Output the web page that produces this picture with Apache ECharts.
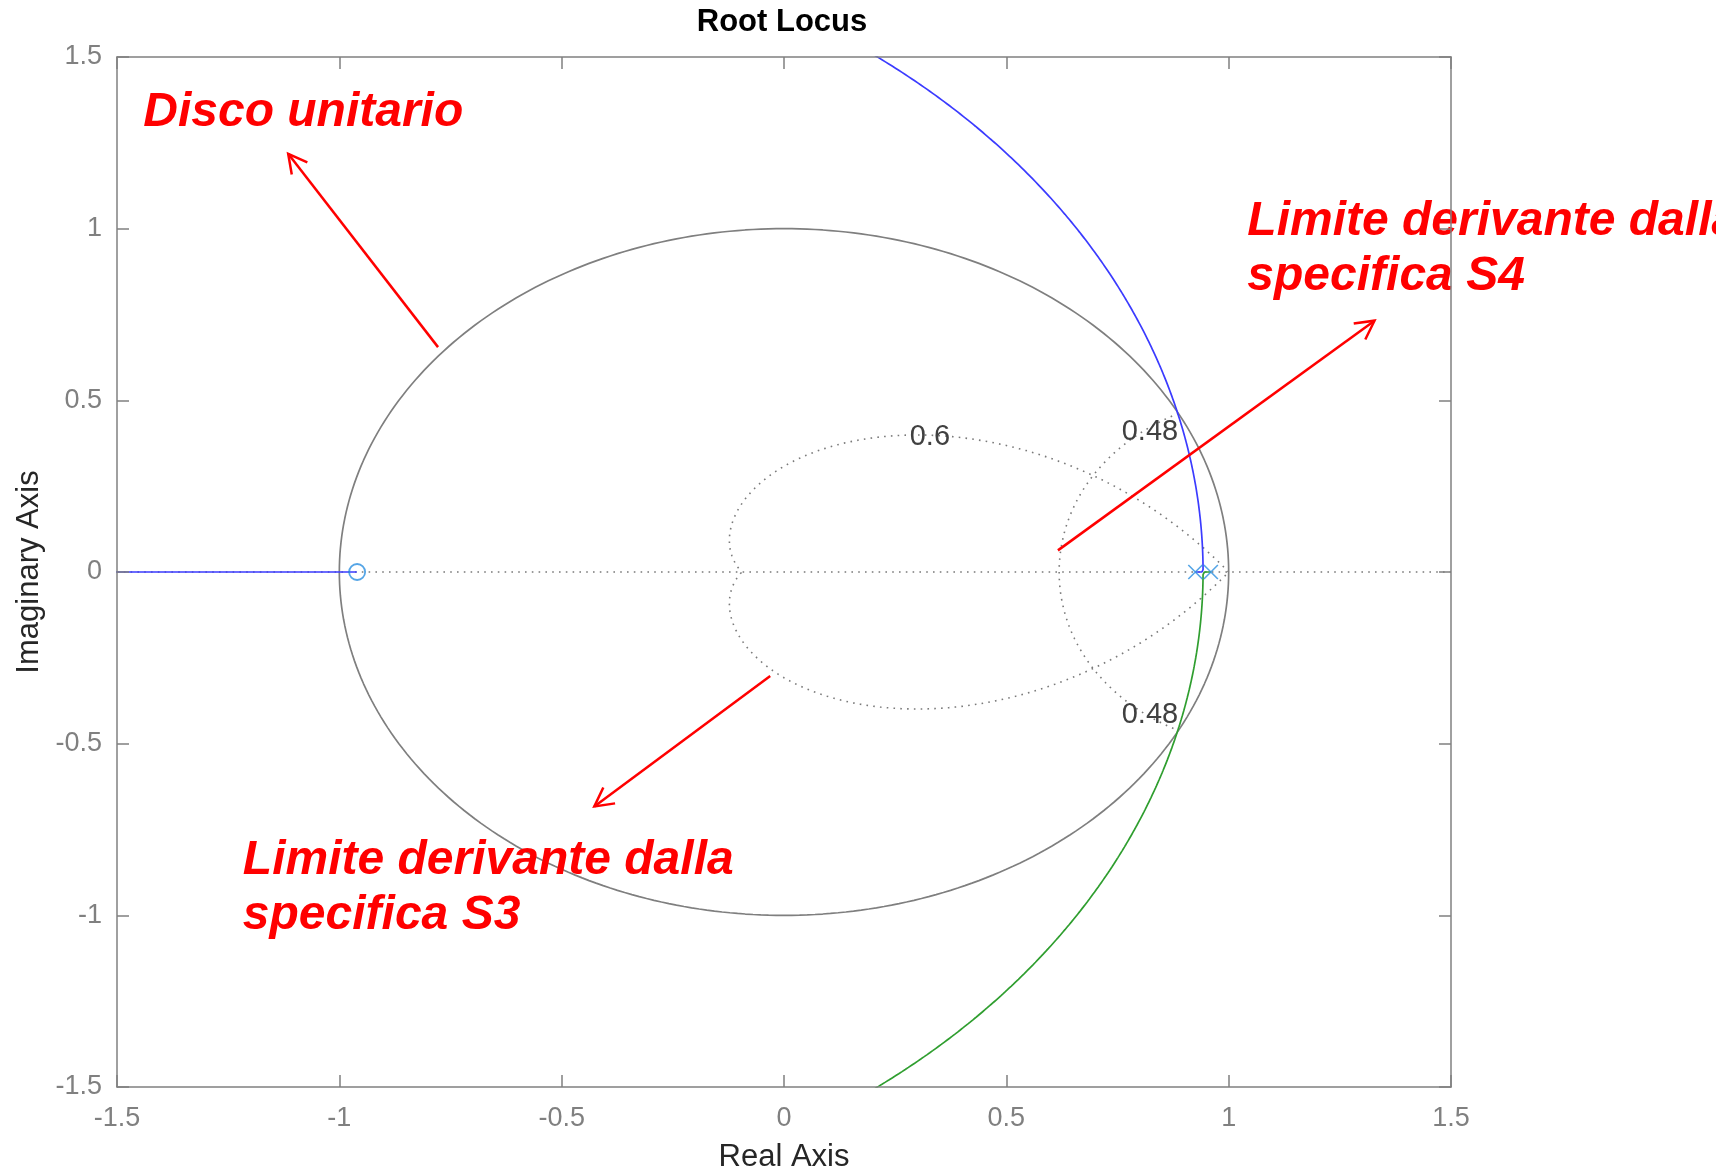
<!DOCTYPE html>
<html><head><meta charset="utf-8">
<script src="https://cdn.jsdelivr.net/npm/echarts@6/dist/echarts.min.js"></script>
<style>html,body{margin:0;padding:0;background:#fff}#c{width:1716px;height:1173px}</style>
</head><body><div id="c"></div>
<script>
// ---- data ----
const axisTicks = [-1.5, -1, -0.5, 0, 0.5, 1, 1.5];
const openLoopPoles = [0.925, 0.96];
const openLoopZeros = [-0.96];
const unitDiscRadius = [1];
const dampingRatios = [0.6];
const naturalFreqs = [0.48];
const gridLabelTexts = ['0.6', '0.48', '0.48'];
const annotationLines = ['Disco unitario', 'Limite derivante dalla', 'specifica S4', 'Limite derivante dalla', 'specifica S3'];

// ---- geometry derived from the parameters above ----
function circlePts(r) {
  const out = [];
  for (let i = 0; i <= 360; i++) { const t = i * Math.PI / 180; out.push([r * Math.cos(t), r * Math.sin(t)]); }
  return out;
}
function zetaCurve(zeta) {
  const a = zeta / Math.sqrt(1 - zeta * zeta), up = [];
  for (let i = 0; i <= 300; i++) { const t = Math.PI * i / 300, r = Math.exp(-a * t); up.push([r * Math.cos(t), r * Math.sin(t)]); }
  return up.concat(up.slice().reverse().map(p => [p[0], -p[1]]));
}
function wnCurve(wn) {
  const up = [];
  for (let i = 0; i <= 300; i++) {
    const t = (Math.PI / 2) * i / 300, z = Math.sin(t), r = Math.exp(-wn * z), ang = wn * Math.cos(t);
    up.push([r * Math.cos(ang), r * Math.sin(ang)]);
  }
  return up.concat(up.slice().reverse().map(p => [p[0], -p[1]]));
}
function rootLocus() {
  const p1 = openLoopPoles[0], p2 = openLoopPoles[1], z0 = openLoopZeros[0];
  const blue = [], green = [];
  const Ks = [0];
  for (let i = 0; i <= 6000; i++) Ks.push(Math.pow(10, -8 + i * 14 / 6000));
  let seenComplex = false;
  for (const K of Ks) {
    const b = K - p1 - p2, c = p1 * p2 - K * z0, d = b * b - 4 * c;
    if (d < 0) {
      seenComplex = true;
      const re = -b / 2, im = Math.sqrt(-d) / 2;
      blue.push([re, im]); green.push([re, -im]);
    } else {
      const s = Math.sqrt(d), r1 = (-b - s) / 2, r2 = (-b + s) / 2;
      if (!seenComplex) { blue.push([r1, 0]); green.push([r2, 0]); }
      else { blue.push([r2, 0]); green.push([r1, 0]); }
    }
  }
  return { blue, green };
}
const locus = rootLocus();

const FONT = '"Liberation Sans", Arial, Helvetica, sans-serif';
const AXC = '#808080';
const xmin = axisTicks[0], xmax = axisTicks[axisTicks.length - 1];

function axisCommon(pos, showLabel) {
  return {
    type: 'value', min: xmin, max: xmax, interval: 0.5, position: pos, z: 10,
    axisLine: { show: true, onZero: false, lineStyle: { color: AXC, width: 1.5 } },
    axisTick: { show: true, inside: true, length: 12, lineStyle: { color: AXC, width: 1.5 } },
    axisLabel: { show: showLabel, color: AXC, fontSize: 27, fontFamily: FONT },
    splitLine: { show: false }
  };
}

const chart = echarts.init(document.getElementById('c'), null, { renderer: 'canvas' });

const gridLabelPos = [[0.328, 0.393], [0.823, 0.408], [0.823, -0.417]];
const annotationPos = [[-1.441, 1.339], [1.042, 1.021], [1.042, 0.861], [-1.217, -0.840], [-1.217, -1.000]];
const arrows = [[-0.778, 0.655, -1.115, 1.218], [0.616, 0.063, 1.328, 0.732], [-0.031, -0.303, -0.4266, -0.683]];

const dotted = { color: '#7a7a7a', width: 1.6, type: [1.6, 5.2] };

chart.setOption({
  animation: false,
  backgroundColor: '#fff',
  grid: { left: 117, right: 265, top: 57, bottom: 86, containLabel: false, outerBoundsMode: 'none' },
  graphic: [{
    type: 'text', x: 782, y: 22, z: 100,
    style: { text: 'Root Locus', fill: '#000', font: 'bold 31px ' + FONT, align: 'center', verticalAlign: 'middle' }
  }],
  xAxis: [
    Object.assign(axisCommon('bottom', true), {
      name: 'Real Axis', nameLocation: 'middle', nameGap: 55,
      nameTextStyle: { color: '#262626', fontSize: 31, fontFamily: FONT },
      axisLabel: { show: true, color: AXC, fontSize: 27, fontFamily: FONT, margin: 18 }
    }),
    axisCommon('top', false)
  ],
  yAxis: [
    Object.assign(axisCommon('left', true), {
      name: 'Imaginary Axis', nameLocation: 'middle', nameGap: 72, nameRotate: 90,
      nameTextStyle: { color: '#262626', fontSize: 31, fontFamily: FONT },
      axisLabel: { show: true, color: AXC, fontSize: 27, fontFamily: FONT, margin: 15 }
    }),
    axisCommon('right', false)
  ],
  series: [
    { type: 'line', data: [[xmin, 0], [xmax, 0]], showSymbol: false, lineStyle: dotted, z: 1, silent: true },
    { type: 'line', data: zetaCurve(dampingRatios[0]), showSymbol: false, lineStyle: dotted, z: 1, silent: true },
    { type: 'line', data: wnCurve(naturalFreqs[0]), showSymbol: false, lineStyle: dotted, z: 1, silent: true },
    { type: 'line', data: circlePts(unitDiscRadius[0]), showSymbol: false, lineStyle: { color: '#7f7f7f', width: 1.7 }, z: 2, silent: true },
    { type: 'line', data: locus.blue, showSymbol: false, clip: true, lineStyle: { color: '#3b3bff', width: 1.7 }, z: 3, silent: true },
    { type: 'line', data: locus.green, showSymbol: false, clip: true, lineStyle: { color: '#2f9e2f', width: 1.7 }, z: 3, silent: true },
    { type: 'scatter', data: openLoopPoles.map(p => [p, 0]), symbol: 'path://M0,0L10,10M10,0L0,10', symbolSize: 14,
      itemStyle: { color: 'rgba(0,0,0,0)', borderColor: '#2a8fe0', borderWidth: 1.6 }, z: 4, silent: true },
    { type: 'scatter', data: openLoopZeros.map(p => [p, 0]), symbol: 'circle', symbolSize: 16,
      itemStyle: { color: 'rgba(0,0,0,0)', borderColor: '#2a8fe0', borderWidth: 1.8 }, z: 4, silent: true },
    { type: 'custom', coordinateSystem: 'cartesian2d', z: 5, silent: true, clip: false,
      data: gridLabelPos,
      renderItem(params, api) {
        const p = api.coord([api.value(0), api.value(1)]);
        return { type: 'text', x: p[0], y: p[1],
          style: { text: gridLabelTexts[params.dataIndex], fill: '#404040', font: '29px ' + FONT, align: 'center', verticalAlign: 'middle' } };
      } },
    { type: 'custom', coordinateSystem: 'cartesian2d', z: 6, silent: true, clip: false,
      data: arrows,
      renderItem(params, api) {
        const a = api.coord([api.value(0), api.value(1)]), b = api.coord([api.value(2), api.value(3)]);
        const ang = Math.atan2(a[1] - b[1], a[0] - b[0]), L = 21, w = 28 * Math.PI / 180;
        const w1 = [b[0] + L * Math.cos(ang + w), b[1] + L * Math.sin(ang + w)];
        const w2 = [b[0] + L * Math.cos(ang - w), b[1] + L * Math.sin(ang - w)];
        return { type: 'group', children: [
          { type: 'polyline', shape: { points: [a, b] }, style: { stroke: '#ff0000', lineWidth: 2.5, fill: null } },
          { type: 'polyline', shape: { points: [w1, b, w2] }, style: { stroke: '#ff0000', lineWidth: 2.5, fill: null } }
        ] };
      } },
    { type: 'custom', coordinateSystem: 'cartesian2d', z: 6, silent: true, clip: false,
      data: annotationPos,
      renderItem(params, api) {
        const p = api.coord([api.value(0), api.value(1)]);
        return { type: 'text', x: p[0], y: p[1],
          style: { text: annotationLines[params.dataIndex], fill: '#ff0000', font: 'italic bold 48px ' + FONT, align: 'left', verticalAlign: 'middle' } };
      } }
  ]
});
</script>
</body></html>
